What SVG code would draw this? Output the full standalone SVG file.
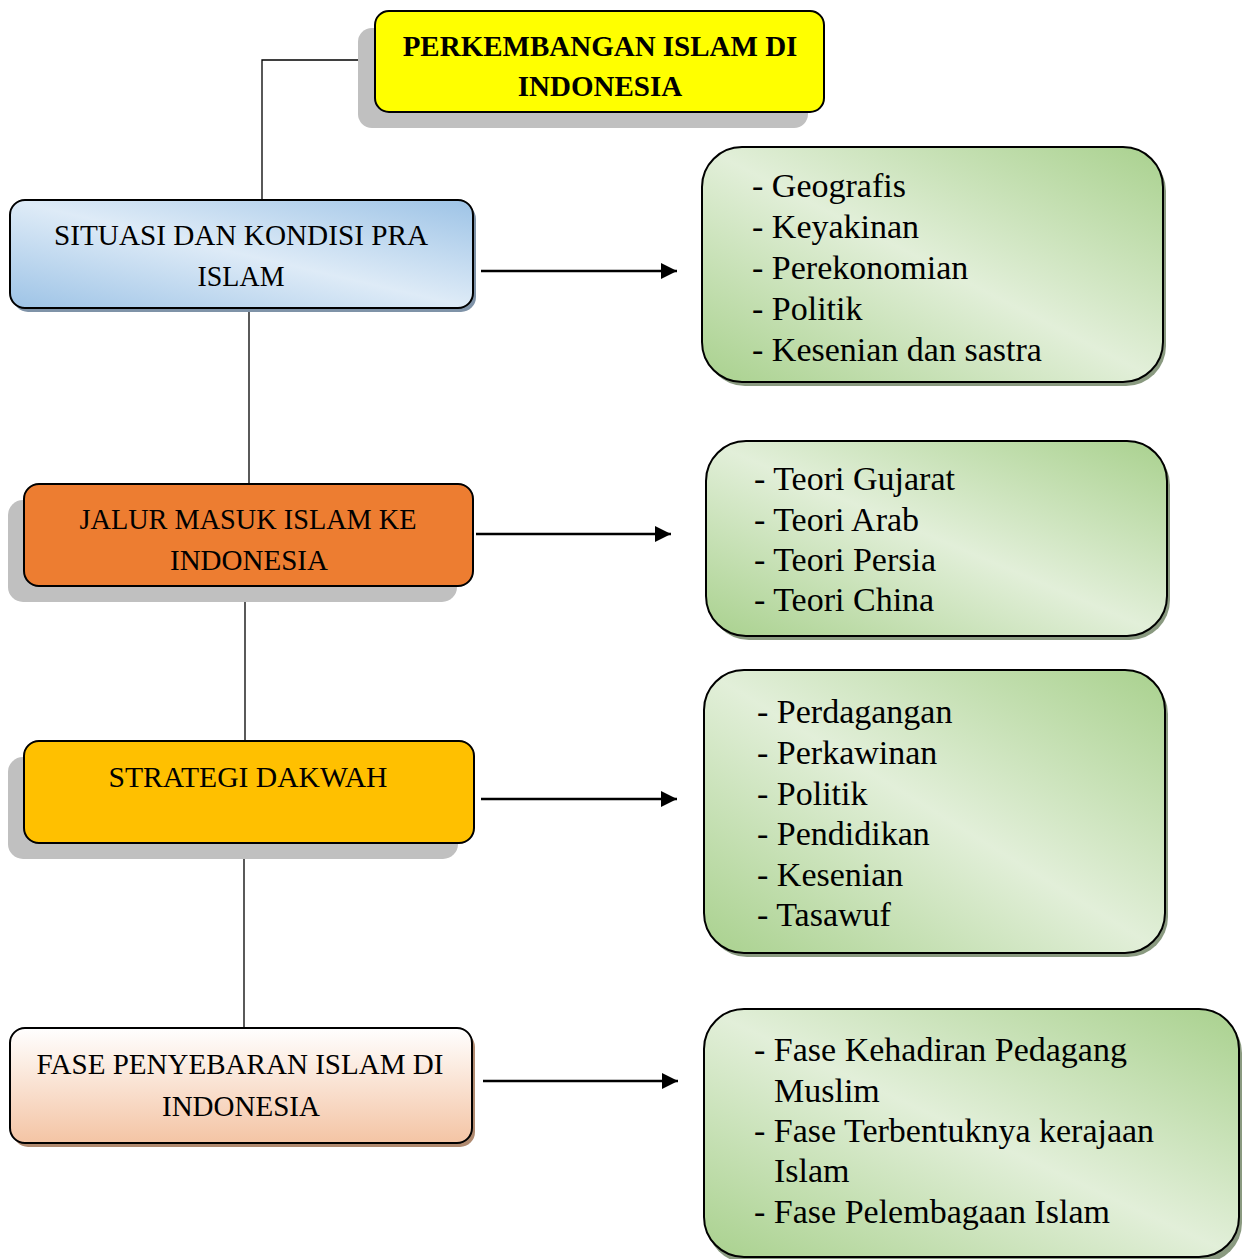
<svg xmlns="http://www.w3.org/2000/svg" width="1242" height="1259" viewBox="0 0 1242 1259">
<defs>
<linearGradient id="gGreen" x1="0" y1="1" x2="1" y2="0">
<stop offset="0" stop-color="#A9D18E"/><stop offset="0.5" stop-color="#E2EFD9"/><stop offset="1" stop-color="#A9D18E"/>
</linearGradient>
<linearGradient id="gBlue" x1="0" y1="1" x2="1" y2="0">
<stop offset="0" stop-color="#9DC3E6"/><stop offset="0.5" stop-color="#DEEBF7"/><stop offset="1" stop-color="#9DC3E6"/>
</linearGradient>
<linearGradient id="gPeach" x1="0" y1="0" x2="0" y2="1">
<stop offset="0" stop-color="#FFFFFF"/><stop offset="1" stop-color="#F4C4A4"/>
</linearGradient>
<marker id="arr" viewBox="0 0 10 10" refX="10" refY="5" markerWidth="16" markerHeight="16" markerUnits="userSpaceOnUse" orient="auto">
<path d="M0,0 L10,5 L0,10 z" fill="#000"/>
</marker>
</defs>
<style>
text{font-family:"Liberation Serif","Times New Roman",serif;fill:#000}
.lbl{font-size:29.5px;text-anchor:middle}
.ttl{font-size:29px;font-weight:bold;text-anchor:middle}
.lst{font-size:34px}
.box{stroke:#000;stroke-width:2}
.sh{fill:#C0C0C0}
.conn{stroke:#000;stroke-width:1.3;fill:none}
.arw{stroke:#000;stroke-width:2.5;fill:none}
</style>

<g id="connectors">
<path class="conn" d="M375,60 H262 V200"/>
<path d="M192,200.5 H262" stroke="#000" stroke-width="2.5"/>
<path class="conn" d="M249,308 V484"/>
<path class="conn" d="M245,586 V741"/>
<path class="conn" d="M244,843 V1029"/>
<path class="arw" d="M481,271 H677" marker-end="url(#arr)"/>
<path class="arw" d="M476,534 H671" marker-end="url(#arr)"/>
<path class="arw" d="M481,799 H677" marker-end="url(#arr)"/>
<path class="arw" d="M483,1081 H678" marker-end="url(#arr)"/>
</g>

<g id="title">
<rect class="sh" x="358" y="28" width="450" height="100" rx="14"/>
<rect class="box" x="375" y="11" width="449" height="101" rx="14" fill="#FFFF00"/>
<text class="ttl" x="600" y="56">PERKEMBANGAN ISLAM DI</text>
<text class="ttl" x="600" y="96">INDONESIA</text>
</g>

<g id="situasi">
<rect x="13" y="204" width="463" height="108" rx="15" fill="#7F93A8"/>
<rect class="box" x="10" y="200" width="463" height="108" rx="15" fill="url(#gBlue)"/>
<text class="lbl" x="241" y="245" textLength="374" lengthAdjust="spacingAndGlyphs">SITUASI DAN KONDISI PRA</text>
<text class="lbl" x="241" y="286" textLength="87" lengthAdjust="spacingAndGlyphs">ISLAM</text>
</g>

<g id="jalur">
<rect class="sh" x="8" y="500" width="449" height="102" rx="15"/>
<rect class="box" x="24" y="484" width="449" height="102" rx="15" fill="#ED7D31"/>
<text class="lbl" x="248" y="529" textLength="337" lengthAdjust="spacingAndGlyphs">JALUR MASUK ISLAM KE</text>
<text class="lbl" x="249" y="570" textLength="158" lengthAdjust="spacingAndGlyphs">INDONESIA</text>
</g>

<g id="strategi">
<rect class="sh" x="8" y="757" width="450" height="102" rx="15"/>
<rect class="box" x="24" y="741" width="450" height="102" rx="15" fill="#FFC000"/>
<text class="lbl" x="248" y="787" textLength="279" lengthAdjust="spacingAndGlyphs">STRATEGI DAKWAH</text>
</g>

<g id="fase">
<rect x="13" y="1032" width="462" height="115" rx="15" fill="#B08A70"/>
<rect class="box" x="10" y="1028" width="462" height="115" rx="15" fill="url(#gPeach)"/>
<text class="lbl" x="240" y="1074" textLength="407" lengthAdjust="spacingAndGlyphs">FASE PENYEBARAN ISLAM DI</text>
<text class="lbl" x="241" y="1116" textLength="158" lengthAdjust="spacingAndGlyphs">INDONESIA</text>
</g>

<g id="list-situasi">
<rect x="705" y="151" width="461" height="235" rx="40" fill="#8A9A80"/>
<rect class="box" x="702" y="147" width="461" height="235" rx="40" fill="url(#gGreen)"/>
<text class="lst" x="752" y="197">- Geografis</text>
<text class="lst" x="752" y="238">- Keyakinan</text>
<text class="lst" x="752" y="279">- Perekonomian</text>
<text class="lst" x="752" y="320">- Politik</text>
<text class="lst" x="752" y="361">- Kesenian dan sastra</text>
</g>

<g id="list-jalur">
<rect x="709" y="445" width="461" height="195" rx="40" fill="#8A9A80"/>
<rect class="box" x="706" y="441" width="461" height="195" rx="40" fill="url(#gGreen)"/>
<text class="lst" x="754" y="490">- Teori Gujarat</text>
<text class="lst" x="754" y="531">- Teori Arab</text>
<text class="lst" x="754" y="571">- Teori Persia</text>
<text class="lst" x="754" y="611">- Teori China</text>
</g>

<g id="list-strategi">
<rect x="707" y="674" width="461" height="283" rx="40" fill="#8A9A80"/>
<rect class="box" x="704" y="670" width="461" height="283" rx="40" fill="url(#gGreen)"/>
<text class="lst" x="757" y="723">- Perdagangan</text>
<text class="lst" x="757" y="764">- Perkawinan</text>
<text class="lst" x="757" y="805">- Politik</text>
<text class="lst" x="757" y="845">- Pendidikan</text>
<text class="lst" x="757" y="886">- Kesenian</text>
<text class="lst" x="757" y="926">- Tasawuf</text>
</g>

<g id="list-fase">
<rect x="707" y="1013" width="535" height="250" rx="40" fill="#8A9A80"/>
<rect class="box" x="704" y="1009" width="535" height="248" rx="40" fill="url(#gGreen)"/>
<text class="lst" x="754" y="1061">- Fase Kehadiran Pedagang</text>
<text class="lst" x="774" y="1102">Muslim</text>
<text class="lst" x="754" y="1142">- Fase Terbentuknya kerajaan</text>
<text class="lst" x="774" y="1182">Islam</text>
<text class="lst" x="754" y="1223">- Fase Pelembagaan Islam</text>
</g>
</svg>
